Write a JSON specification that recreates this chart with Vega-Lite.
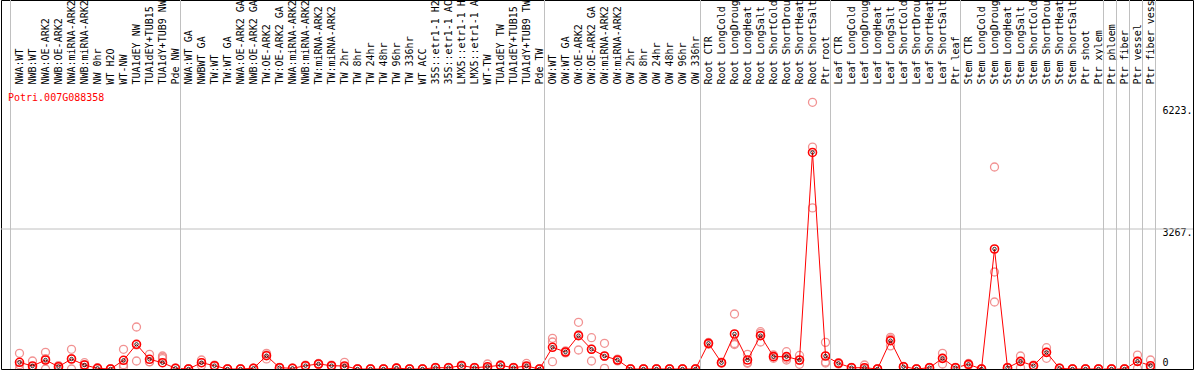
{
  "$schema": "https://vega.github.io/schema/vega-lite/v6.json",
  "width": 1192,
  "height": 369,
  "autosize": "none",
  "padding": {"left": 1, "right": 1, "top": 0, "bottom": 1},
  "background": "white",
  "title": {"text": "Potri.007G088358", "orient": "bottom", "anchor": "start", "frame": "group", "color": "#ff0000", "font": "DejaVu Sans Mono", "fontSize": 10, "fontWeight": "normal", "baseline": "top", "offset": 0, "dx": 7, "dy": -277},
  "config": {"view": {"stroke": "#000000", "strokeWidth": 1}, "font": "DejaVu Sans Mono"},
  "datasets": {
    "expr": [
      {"i": 0, "c": "NWA:WT", "m": 156, "r1": 366, "r2": 100, "r3": 0},
      {"i": 1, "c": "NWB:WT", "m": 70, "r1": 187, "r2": 23, "r3": 0},
      {"i": 2, "c": "NWA:OE-ARK2", "m": 210, "r1": 390, "r2": 240, "r3": 0},
      {"i": 3, "c": "NWB:OE-ARK2", "m": 54, "r1": 80, "r2": 60, "r3": 22},
      {"i": 4, "c": "NWA:miRNA-ARK2", "m": 233, "r1": 460, "r2": 240, "r3": 0},
      {"i": 5, "c": "NWB:miRNA-ARK2", "m": 93, "r1": 147, "r2": 100, "r3": 32},
      {"i": 6, "c": "NW 0hr", "m": 16, "r1": 30, "r2": 18, "r3": 0},
      {"i": 7, "c": "WT H2O", "m": 0, "r1": 0, "r2": 0, "r3": 0},
      {"i": 8, "c": "WT-NW", "m": 203, "r1": 460, "r2": 100, "r3": 50},
      {"i": 9, "c": "TUA1dEY NW", "m": 576, "r1": 980, "r2": 561, "r3": 187},
      {"i": 10, "c": "TUA1dEY+TUB15 NW", "m": 226, "r1": 343, "r2": 170, "r3": 165},
      {"i": 11, "c": "TUA1dY+TUB9 NW", "m": 147, "r1": 303, "r2": 273, "r3": 240},
      {"i": 12, "c": "Pde NW", "m": 16, "r1": 20, "r2": 16, "r3": 10},
      {"i": 13, "c": "NWA:WT GA", "m": 0, "r1": 0, "r2": 0, "r3": 0},
      {"i": 14, "c": "NWBWT GA", "m": 147, "r1": 210, "r2": 150, "r3": 80},
      {"i": 15, "c": "TW:WT", "m": 77, "r1": 90, "r2": 77, "r3": 64},
      {"i": 16, "c": "TW:WT GA", "m": 0, "r1": 0, "r2": 0, "r3": 0},
      {"i": 17, "c": "NWA:OE-ARK2 GA", "m": 0, "r1": 0, "r2": 0, "r3": 0},
      {"i": 18, "c": "NWB:OE-ARK2 GA", "m": 16, "r1": 20, "r2": 16, "r3": 12},
      {"i": 19, "c": "TW:OE-ARK2", "m": 310, "r1": 366, "r2": 330, "r3": 234},
      {"i": 20, "c": "TW:OE-ARK2 GA", "m": 30, "r1": 40, "r2": 30, "r3": 20},
      {"i": 21, "c": "NWA:miRNA-ARK2 GA", "m": 16, "r1": 20, "r2": 16, "r3": 12},
      {"i": 22, "c": "NWB:miRNA-ARK2 GA", "m": 77, "r1": 90, "r2": 77, "r3": 64},
      {"i": 23, "c": "TW:miRNA-ARK2", "m": 117, "r1": 130, "r2": 117, "r3": 104},
      {"i": 24, "c": "TW:miRNA-ARK2 GA", "m": 77, "r1": 90, "r2": 77, "r3": 64},
      {"i": 25, "c": "TW 2hr", "m": 70, "r1": 156, "r2": 40, "r3": 14},
      {"i": 26, "c": "TW 8hr", "m": 0, "r1": 0, "r2": 0, "r3": 0},
      {"i": 27, "c": "TW 24hr", "m": 0, "r1": 0, "r2": 0, "r3": 0},
      {"i": 28, "c": "TW 48hr", "m": 0, "r1": 0, "r2": 0, "r3": 0},
      {"i": 29, "c": "TW 96hr", "m": 20, "r1": 25, "r2": 20, "r3": 15},
      {"i": 30, "c": "TW 336hr", "m": 0, "r1": 0, "r2": 0, "r3": 0},
      {"i": 31, "c": "WT ACC", "m": 0, "r1": 0, "r2": 0, "r3": 0},
      {"i": 32, "c": "35S::etr1-1 H2O", "m": 30, "r1": 40, "r2": 30, "r3": 20},
      {"i": 33, "c": "35S::etr1-1 ACC", "m": 30, "r1": 40, "r2": 30, "r3": 20},
      {"i": 34, "c": "LMX5::etr1-1 H2O", "m": 77, "r1": 90, "r2": 77, "r3": 64},
      {"i": 35, "c": "LMX5::etr1-1 ACC", "m": 30, "r1": 40, "r2": 30, "r3": 20},
      {"i": 36, "c": "WT-TW", "m": 54, "r1": 117, "r2": 30, "r3": 15},
      {"i": 37, "c": "TUA1dEY TW", "m": 85, "r1": 95, "r2": 85, "r3": 75},
      {"i": 38, "c": "TUA1dEY+TUB15 TW", "m": 30, "r1": 40, "r2": 30, "r3": 20},
      {"i": 39, "c": "TUA1dY+TUB9 TW", "m": 70, "r1": 130, "r2": 50, "r3": 30},
      {"i": 40, "c": "Pde TW", "m": 0, "r1": 0, "r2": 0, "r3": 0},
      {"i": 41, "c": "OW:WT", "m": 506, "r1": 716, "r2": 630, "r3": 171},
      {"i": 42, "c": "OW:WT GA", "m": 397, "r1": 420, "r2": 397, "r3": 374},
      {"i": 43, "c": "OW:OE-ARK2", "m": 778, "r1": 1090, "r2": 801, "r3": 443},
      {"i": 44, "c": "OW:OE-ARK2 GA", "m": 460, "r1": 730, "r2": 463, "r3": 187},
      {"i": 45, "c": "OW:miRNA-ARK2", "m": 303, "r1": 600, "r2": 293, "r3": 16},
      {"i": 46, "c": "OW:miRNA-ARK2 GA", "m": 210, "r1": 230, "r2": 210, "r3": 190},
      {"i": 47, "c": "OW 2hr", "m": 0, "r1": 0, "r2": 0, "r3": 0},
      {"i": 48, "c": "OW 8hr", "m": 0, "r1": 0, "r2": 0, "r3": 0},
      {"i": 49, "c": "OW 24hr", "m": 0, "r1": 0, "r2": 0, "r3": 0},
      {"i": 50, "c": "OW 48hr", "m": 0, "r1": 0, "r2": 0, "r3": 0},
      {"i": 51, "c": "OW 96hr", "m": 0, "r1": 0, "r2": 0, "r3": 0},
      {"i": 52, "c": "OW 336hr", "m": 0, "r1": 0, "r2": 0, "r3": 0},
      {"i": 53, "c": "Root CTR", "m": 599, "r1": 620, "r2": 599, "r3": 578},
      {"i": 54, "c": "Root LongCold", "m": 147, "r1": 160, "r2": 147, "r3": 134},
      {"i": 55, "c": "Root LongDrought", "m": 817, "r1": 1284, "r2": 595, "r3": 572},
      {"i": 56, "c": "Root LongHeat", "m": 210, "r1": 343, "r2": 150, "r3": 133},
      {"i": 57, "c": "Root LongSalt", "m": 778, "r1": 871, "r2": 832, "r3": 630},
      {"i": 58, "c": "Root ShortCold", "m": 288, "r1": 327, "r2": 288, "r3": 249},
      {"i": 59, "c": "Root ShortDrought", "m": 288, "r1": 404, "r2": 249, "r3": 210},
      {"i": 60, "c": "Root ShortHeat", "m": 210, "r1": 316, "r2": 200, "r3": 110},
      {"i": 61, "c": "Root ShortSalt", "m": 5054, "r1": 6223, "r2": 5180, "r3": 3760},
      {"i": 62, "c": "Ptr root", "m": 303, "r1": 622, "r2": 163, "r3": 140},
      {"i": 63, "c": "Leaf CTR", "m": 133, "r1": 150, "r2": 133, "r3": 116},
      {"i": 64, "c": "Leaf LongCold", "m": 30, "r1": 40, "r2": 30, "r3": 20},
      {"i": 65, "c": "Leaf LongDrought", "m": 30, "r1": 93, "r2": 20, "r3": 0},
      {"i": 66, "c": "Leaf LongHeat", "m": 0, "r1": 0, "r2": 0, "r3": 0},
      {"i": 67, "c": "Leaf LongSalt", "m": 661, "r1": 740, "r2": 700, "r3": 540},
      {"i": 68, "c": "Leaf ShortCold", "m": 54, "r1": 60, "r2": 54, "r3": 48},
      {"i": 69, "c": "Leaf ShortDrought", "m": 0, "r1": 0, "r2": 0, "r3": 0},
      {"i": 70, "c": "Leaf ShortHeat", "m": 30, "r1": 40, "r2": 30, "r3": 20},
      {"i": 71, "c": "Leaf ShortSalt", "m": 249, "r1": 366, "r2": 249, "r3": 117},
      {"i": 72, "c": "Ptr leaf", "m": 30, "r1": 40, "r2": 30, "r3": 20},
      {"i": 73, "c": "Stem CTR", "m": 109, "r1": 130, "r2": 109, "r3": 88},
      {"i": 74, "c": "Stem LongCold", "m": 0, "r1": 0, "r2": 0, "r3": 0},
      {"i": 75, "c": "Stem LongDrought", "m": 2800, "r1": 4714, "r2": 2264, "r3": 1564},
      {"i": 76, "c": "Stem LongHeat", "m": 30, "r1": 40, "r2": 30, "r3": 20},
      {"i": 77, "c": "Stem LongSalt", "m": 179, "r1": 303, "r2": 179, "r3": 30},
      {"i": 78, "c": "Stem ShortCold", "m": 77, "r1": 90, "r2": 77, "r3": 64},
      {"i": 79, "c": "Stem ShortDrought", "m": 389, "r1": 497, "r2": 389, "r3": 249},
      {"i": 80, "c": "Stem ShortHeat", "m": 16, "r1": 20, "r2": 16, "r3": 12},
      {"i": 81, "c": "Stem ShortSalt", "m": 0, "r1": 0, "r2": 0, "r3": 0},
      {"i": 82, "c": "Ptr shoot", "m": 0, "r1": 0, "r2": 0, "r3": 0},
      {"i": 83, "c": "Ptr xylem", "m": 0, "r1": 0, "r2": 0, "r3": 0},
      {"i": 84, "c": "Ptr phloem", "m": 0, "r1": 0, "r2": 0, "r3": 0},
      {"i": 85, "c": "Ptr fiber", "m": 0, "r1": 0, "r2": 0, "r3": 0},
      {"i": 86, "c": "Ptr vessel", "m": 179, "r1": 326, "r2": 179, "r3": 16},
      {"i": 87, "c": "Ptr fiber vessel", "m": 77, "r1": 210, "r2": 40, "r3": 16}
    ],
    "seps": [
      {"i": 0, "c": "NWA:WT", "at": "before"},
      {"i": 12, "c": "Pde NW", "at": "after"},
      {"i": 40, "c": "Pde TW", "at": "after"},
      {"i": 52, "c": "OW 336hr", "at": "after"},
      {"i": 62, "c": "Ptr root", "at": "after"},
      {"i": 72, "c": "Ptr leaf", "at": "after"},
      {"i": 83, "c": "Ptr xylem", "at": "after"},
      {"i": 84, "c": "Ptr phloem", "at": "after"},
      {"i": 85, "c": "Ptr fiber", "at": "after"},
      {"i": 86, "c": "Ptr vessel", "at": "after"},
      {"i": 87, "c": "Ptr fiber vessel", "at": "after"}
    ],
    "mid": [
      {"level": "half of axis maximum", "v": 3267}
    ]
  },
  "layer": [
    {
      "data": {"name": "mid"},
      "mark": {"type": "rule", "color": "#c0c0c0", "strokeWidth": 1},
      "encoding": {
        "y": {"field": "v", "type": "quantitative"}
      }
    },
    {
      "data": {"name": "expr"},
      "transform": [{"fold": ["r1", "r2", "r3"], "as": ["rep", "v"]}],
      "mark": {"type": "point", "shape": "circle", "filled": false, "color": "#f08080", "size": 64, "strokeWidth": 1.3, "opacity": 0.85, "clip": true},
      "encoding": {
        "x": {
          "field": "c", "type": "nominal", "sort": {"field": "i", "op": "min"},
          "scale": {"type": "band", "range": [12, 1156], "paddingInner": 0, "paddingOuter": 0},
          "axis": {"orient": "top", "offset": -84, "ticks": false, "domain": false, "grid": false, "labelAngle": 270, "labelAlign": "left", "labelBaseline": "middle", "labelPadding": 0, "labelFont": "DejaVu Sans Mono", "labelFontSize": 10, "labelColor": "#000000", "labelLimit": 400, "labelOverlap": false, "labelFlush": false, "title": null}
        },
        "y": {
          "field": "v", "type": "quantitative",
          "scale": {"domain": [0, 8611], "nice": false, "zero": true},
          "axis": {"orient": "right", "offset": -36, "values": [0, 3267, 6223], "ticks": false, "domain": false, "grid": false, "labelExpr": "datum.value === 0 ? '0' : datum.value + '.'", "labelPadding": 5, "labelAlign": "left", "labelBaseline": "middle", "labelOffset": {"condition": [{"test": "datum.value === 0", "value": -7}, {"test": "datum.value > 5000", "value": 8}], "value": 3}, "labelFont": "DejaVu Sans Mono", "labelFontSize": 10, "labelColor": "#000000", "labelFlush": false, "labelOverlap": false, "title": null}
        }
      }
    },
    {
      "data": {"name": "expr"},
      "mark": {"type": "line", "color": "#ff0000", "strokeWidth": 1, "order": false, "clip": true},
      "encoding": {
        "x": {"field": "c", "type": "nominal", "sort": {"field": "i", "op": "min"}},
        "y": {"field": "m", "type": "quantitative"}
      }
    },
    {
      "data": {"name": "expr"},
      "mark": {"type": "point", "shape": "circle", "filled": false, "color": "#ff0000", "size": 64, "strokeWidth": 1.6, "opacity": 1, "clip": true},
      "encoding": {
        "x": {"field": "c", "type": "nominal", "sort": {"field": "i", "op": "min"}},
        "y": {"field": "m", "type": "quantitative"}
      }
    },
    {
      "data": {"name": "expr"},
      "mark": {"type": "point", "shape": "circle", "filled": false, "color": "#000000", "size": 12, "strokeWidth": 0.8, "opacity": 1, "clip": true},
      "encoding": {
        "x": {"field": "c", "type": "nominal", "sort": {"field": "i", "op": "min"}},
        "y": {"field": "m", "type": "quantitative"}
      }
    },
    {
      "data": {"name": "seps"},
      "transform": [{"filter": "datum.at === 'after'"}],
      "mark": {"type": "rule", "color": "#c0c0c0", "strokeWidth": 1},
      "encoding": {
        "x": {"field": "c", "type": "nominal", "sort": {"field": "i", "op": "min"}, "bandPosition": 0.8846}
      }
    },
    {
      "data": {"name": "seps"},
      "transform": [{"filter": "datum.at === 'before'"}],
      "mark": {"type": "rule", "color": "#c0c0c0", "strokeWidth": 1},
      "encoding": {
        "x": {"field": "c", "type": "nominal", "sort": {"field": "i", "op": "min"}, "bandPosition": -0.192}
      }
    }
  ]
}
